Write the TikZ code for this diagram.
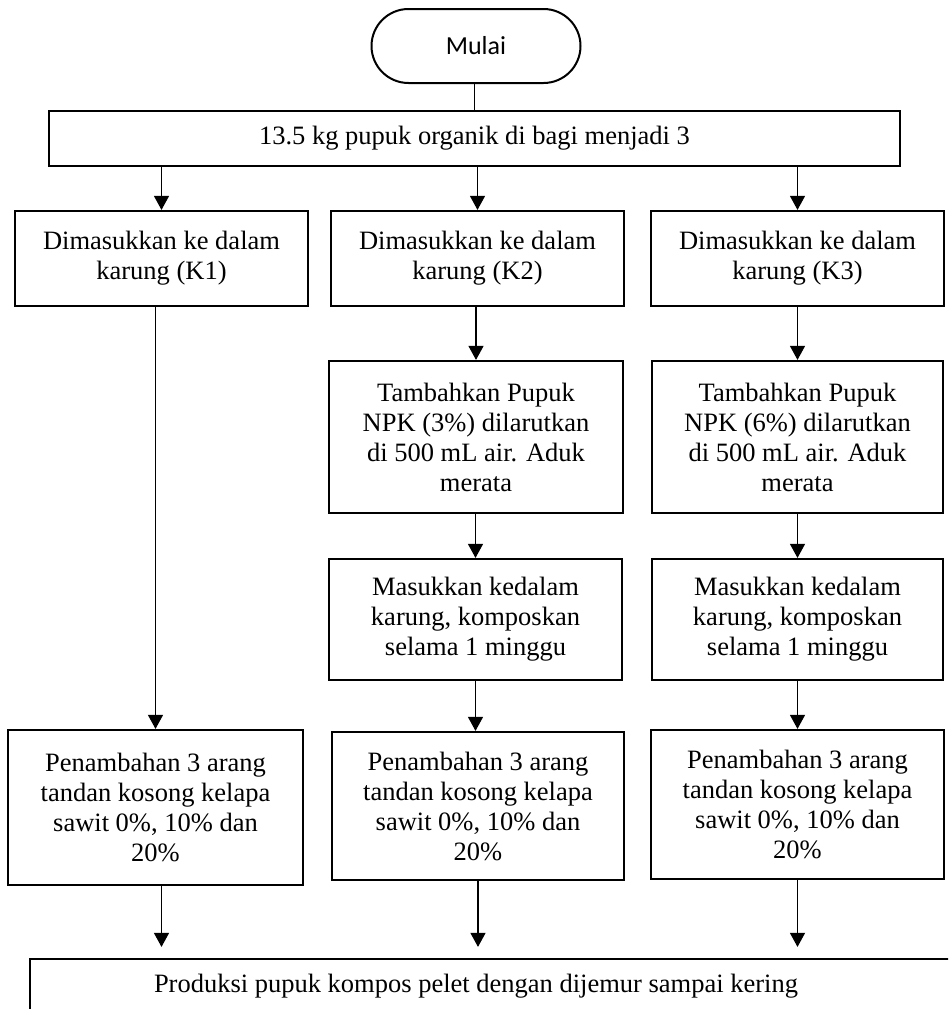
\documentclass[tikz,border=0pt]{standalone}
\usepackage{fontspec}
\setmainfont{Liberation Serif}
\newfontfamily\calibfont{Carlito}
\usetikzlibrary{arrows.meta}
\begin{document}
\begin{tikzpicture}[x=1pt,y=-1pt,
  box/.style={draw, line width=2.2pt, rectangle, inner sep=0pt, align=center,
    font=\fontsize{26.5pt}{30pt}\selectfont},
  startbox/.style={draw, line width=2pt, rectangle, rounded corners=37pt, inner sep=0pt,
    minimum width=209pt, minimum height=74pt, font=\calibfont\fontsize{26pt}{30pt}\selectfont},
  arr/.style={line width=1.2pt, -{Triangle[width=15pt,length=14pt]}},
  plain/.style={line width=1.2pt}
  ]
\useasboundingbox (0,0) rectangle (948,1009);
\clip (0,0) rectangle (948,1009);

% nodes
\node[startbox] (mulai) at (476,46) {Mulai};
\node[box, minimum width=851pt, minimum height=55pt] (top) at (474.5,138.5)
  {13.5 kg pupuk organik di bagi menjadi 3};

\node[box, minimum width=293pt, minimum height=95pt] (k1) at (161.5,258.5)
  {Dimasukkan ke dalam\\karung (K1)};
\node[box, minimum width=293pt, minimum height=95pt] (k2) at (477.5,258.5)
  {Dimasukkan ke dalam\\karung (K2)};
\node[box, minimum width=293pt, minimum height=95pt] (k3) at (797.5,258.5)
  {Dimasukkan ke dalam\\karung (K3)};

\node[box, minimum width=294pt, minimum height=152pt] (t2) at (476,437)
  {Tambahkan Pupuk\\NPK (3\%) dilarutkan\\di 500 mL air. Aduk\\merata};
\node[box, minimum width=291pt, minimum height=152pt] (t3) at (797.5,437)
  {Tambahkan Pupuk\\NPK (6\%) dilarutkan\\di 500 mL air. Aduk\\merata};

\node[box, minimum width=293pt, minimum height=121pt] (m2) at (475.5,619.5)
  {Masukkan kedalam\\karung, komposkan\\selama 1 minggu};
\node[box, minimum width=291pt, minimum height=121pt] (m3) at (797.5,619.5)
  {Masukkan kedalam\\karung, komposkan\\selama 1 minggu};

\node[box, minimum width=295pt, minimum height=155pt] (p1) at (155.5,807.5)
  {Penambahan 3 arang\\tandan kosong kelapa\\sawit 0\%, 10\% dan\\20\%};
\node[box, minimum width=292pt, minimum height=148pt] (p2) at (478,806)
  {Penambahan 3 arang\\tandan kosong kelapa\\sawit 0\%, 10\% dan\\20\%};
\node[box, minimum width=293pt, minimum height=149pt] (p3) at (797.5,804.5)
  {Penambahan 3 arang\\tandan kosong kelapa\\sawit 0\%, 10\% dan\\20\%};

\node[box, minimum width=930pt, minimum height=54pt] (bottom) at (495,986)
  {\hspace*{-38pt}Produksi pupuk kompos pelet dengan dijemur sampai kering};

% connectors
\draw[plain] (mulai.south -| top.north) -- (top.north);

\draw[arr] (top.south -| k1.north) -- (k1.north);
\draw[arr] (top.south -| k2.north) -- (k2.north);
\draw[arr] (top.south -| k3.north) -- (k3.north);

\draw[arr] (k1.south -| p1.north) -- (p1.north);
\draw[arr] (k2.south -| t2.north) -- (t2.north);
\draw[arr] (k3.south -| t3.north) -- (t3.north);

\draw[arr] (t2.south -| m2.north) -- (m2.north);
\draw[arr] (t3.south -| m3.north) -- (m3.north);

\draw[arr] (m2.south) -- (m2.south |- p2.north);
\draw[arr] (m3.south) -- (m3.south |- p3.north);

\draw[arr, shorten >=11pt] (p1.south -| k1.south) -- (bottom.north -| k1.south);
\draw[arr, shorten >=11pt] (p2.south) -- (bottom.north -| p2.south);
\draw[arr, shorten >=11pt] (p3.south) -- (bottom.north -| p3.south);
\end{tikzpicture}
\end{document}
